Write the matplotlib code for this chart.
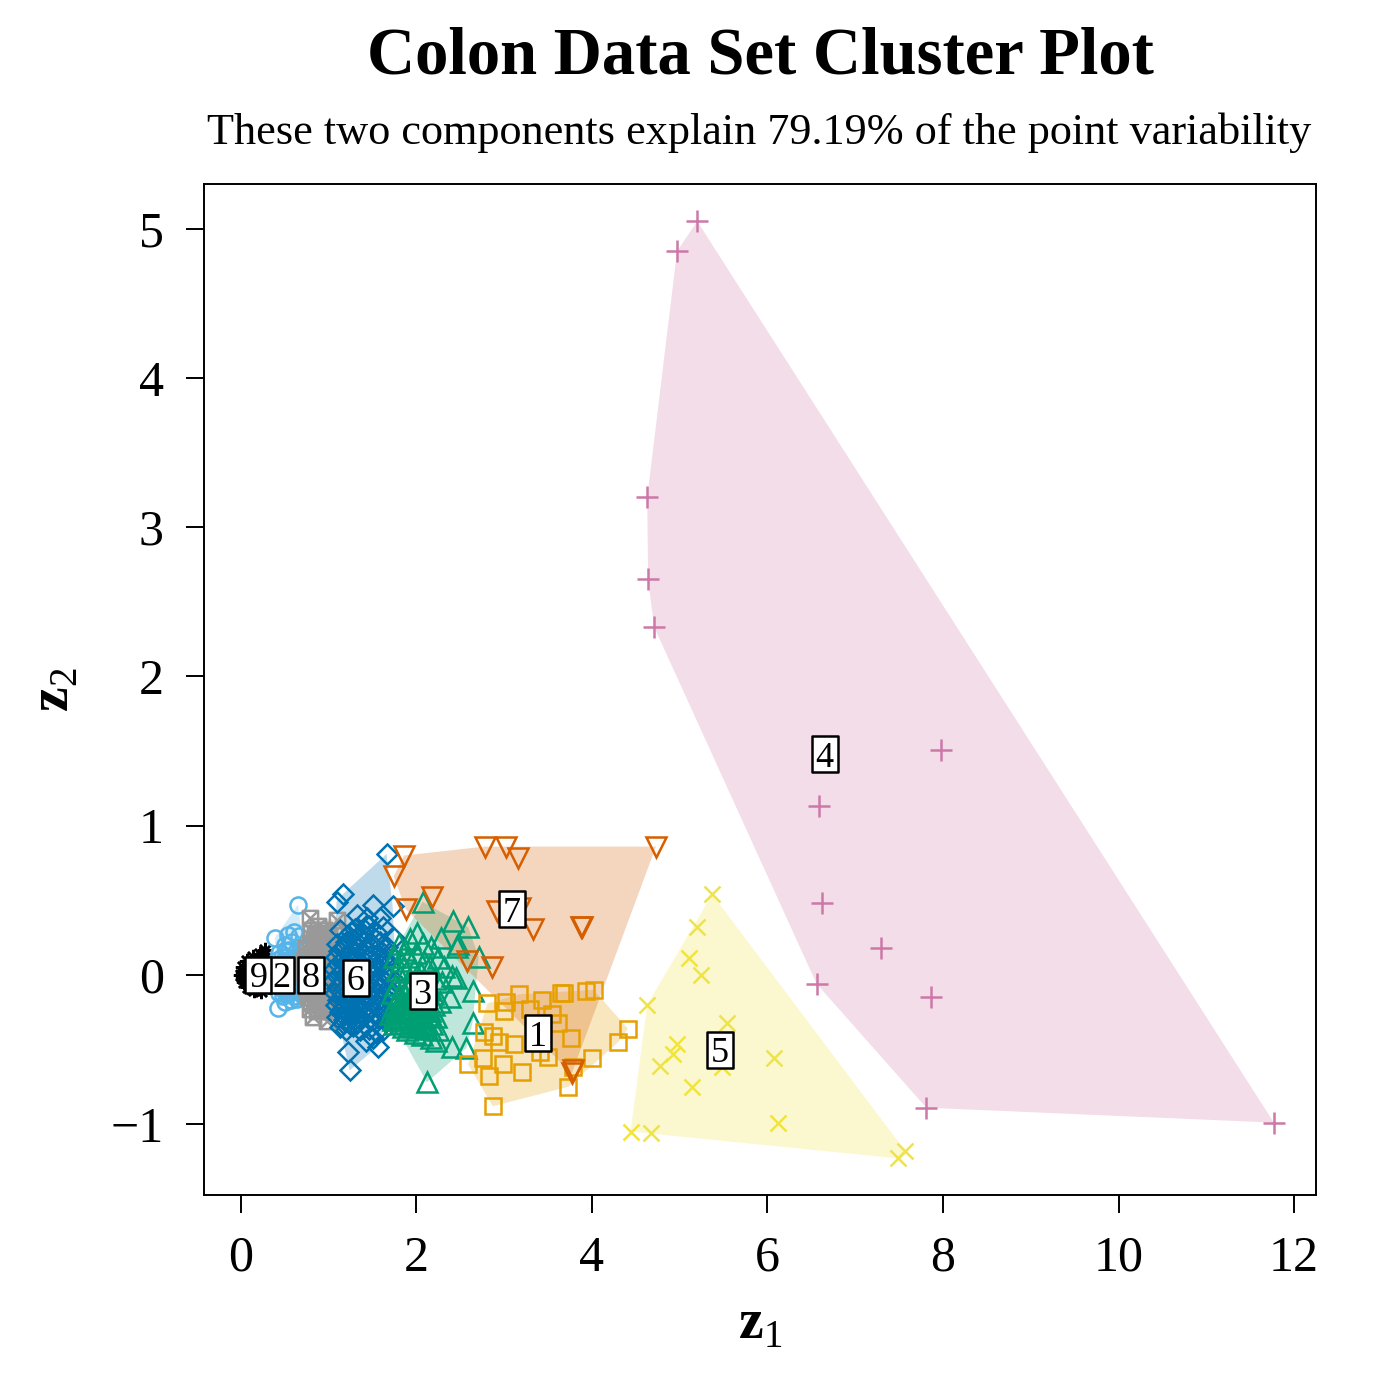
#Colon data set cluster plot
#1. Cluster values. 2. Hull helper. 3. Draw shaded hulls and points. 4. Labels and axes.
import numpy as np
import matplotlib
matplotlib.use('Agg')
import matplotlib.pyplot as plt
from matplotlib.path import Path

plt.rcParams['font.family'] = ['Liberation Serif', 'DejaVu Serif']
plt.rcParams['mathtext.fontset'] = 'custom'
plt.rcParams['mathtext.rm'] = 'Liberation Serif'
plt.rcParams['mathtext.bf'] = 'Liberation Serif:bold'

# Step 1: values
cluster_1 = [(2.81, -0.19), (3.02, -0.18), (3.00, -0.24), (3.17, -0.13), (3.43, -0.17), (3.30, -0.23),
             (3.54, -0.26), (3.61, -0.32), (3.65, -0.12), (3.68, -0.12), (3.93, -0.11), (4.02, -0.10),
             (2.77, -0.38), (2.87, -0.41), (2.94, -0.45), (3.11, -0.46), (3.76, -0.42), (4.41, -0.36),
             (4.30, -0.45), (2.76, -0.56), (2.99, -0.60), (2.59, -0.60), (2.83, -0.68), (3.20, -0.65),
             (3.50, -0.55), (3.41, -0.52), (4.00, -0.56), (3.78, -0.62), (3.73, -0.75), (2.87, -0.88)]
cluster_2 = [(0.39, 0.25), (0.54, 0.27), (0.60, 0.29), (0.65, 0.47), (0.50, 0.20), (0.58, 0.22), (0.66, 0.26),
             (0.44, 0.15), (0.52, 0.12), (0.62, 0.15), (0.70, 0.18), (0.42, 0.05), (0.50, 0.03), (0.58, 0.07),
             (0.67, 0.02), (0.40, -0.03), (0.47, -0.06), (0.56, -0.04), (0.65, -0.07), (0.43, -0.12),
             (0.52, -0.13), (0.60, -0.11), (0.70, -0.10), (0.42, -0.22), (0.50, -0.18), (0.57, -0.17),
             (0.64, -0.16), (0.72, -0.15), (0.74, 0.08), (0.76, -0.03), (0.48, 0.09), (0.55, 0.17),
             (0.46, 0.01), (0.49, -0.01), (0.53, 0.05), (0.54, -0.08), (0.45, 0.07), (0.47, 0.12), (0.51, 0.16),
             (0.56, 0.10), (0.60, 0.02), (0.61, -0.02), (0.63, 0.09), (0.66, 0.12), (0.59, -0.08), (0.68, -0.04),
             (0.72, 0.03), (0.73, -0.07), (0.46, -0.09), (0.48, -0.14), (0.55, -0.12), (0.61, -0.14), (0.67, -0.12),
             (0.41, 0.10), (0.43, -0.05), (0.69, 0.07)]
cluster_3 = [(2.12, -0.72), (2.57, -0.49), (2.40, -0.48), (2.64, -0.32), (2.65, -0.11), (2.38, -0.15),
             (2.45, -0.02), (2.40, -0.01), (2.07, 0.49), (2.42, 0.36), (2.59, 0.32), (2.28, 0.25),
             (2.47, 0.21), (2.46, 0.19), (2.71, 0.12), (1.80, 0.21), (1.87, 0.17), (1.93, 0.24), (2.01, 0.28),
             (2.08, 0.21), (2.17, 0.19), (1.74, 0.12), (1.83, 0.09), (1.91, 0.12), (2.00, 0.15), (2.09, 0.09),
             (2.16, 0.06), (2.25, 0.11), (2.31, 0.05), (1.78, 0.03), (1.88, 0.02), (1.97, 0.04), (2.05, 0.01),
             (2.21, -0.03), (2.29, -0.05), (1.76, -0.07), (1.84, -0.09), (1.92, -0.06), (2.01, -0.08), (2.14, -0.10),
             (1.72, -0.12), (1.79, -0.15), (1.86, -0.13), (1.94, -0.16), (2.03, -0.14), (2.11, -0.16), (2.19, -0.13),
             (2.27, -0.18), (1.74, -0.20), (1.81, -0.22), (1.88, -0.19), (1.96, -0.23), (2.04, -0.21), (2.12, -0.22),
             (2.20, -0.20), (1.70, -0.26), (1.77, -0.28), (1.84, -0.25), (1.91, -0.29), (1.99, -0.27), (2.06, -0.29),
             (2.14, -0.27), (2.22, -0.28), (1.75, -0.33), (1.83, -0.32), (1.92, -0.34), (2.00, -0.33), (2.09, -0.34),
             (2.18, -0.33), (2.25, -0.37), (1.98, -0.39), (2.06, -0.40), (2.17, -0.42), (2.22, -0.44), (1.89, -0.37),
             (1.76, -0.24), (1.80, -0.30), (1.86, -0.29), (1.89, -0.23), (1.93, -0.26), (1.97, -0.30), (2.02, -0.25),
             (2.07, -0.24), (2.10, -0.30), (2.16, -0.24), (1.73, -0.30), (1.79, -0.25), (1.85, -0.35), (1.95, -0.32),
             (2.03, -0.35), (2.12, -0.36), (1.82, -0.18), (1.90, -0.10), (1.98, -0.11), (2.06, -0.18)]
cluster_4 = [(5.20, 5.05), (4.97, 4.85), (4.63, 3.20), (4.64, 2.65), (4.71, 2.33), (7.98, 1.51), (6.59, 1.13),
             (6.62, 0.48), (7.29, 0.18), (6.56, -0.06), (7.86, -0.15), (7.81, -0.89), (11.77, -0.99)]
cluster_5 = [(5.37, 0.54), (5.20, 0.32), (5.11, 0.11), (5.24, 0.00), (4.63, -0.20), (5.54, -0.32), (4.97, -0.46),
             (4.92, -0.53), (4.77, -0.61), (6.07, -0.56), (5.14, -0.75), (5.48, -0.62), (6.12, -0.99), (4.44, -1.05),
             (4.67, -1.06), (7.57, -1.18), (7.49, -1.23)]
cluster_6 = [(1.66, 0.81), (1.16, 0.54), (1.09, 0.49), (1.50, 0.47), (1.73, 0.46), (1.32, 0.40), (1.22, -0.52),
             (1.24, -0.64), (1.56, -0.48), (1.43, -0.44), (1.13, 0.30), (1.22, 0.27), (1.30, 0.31), (1.38, 0.28),
             (1.46, 0.33), (1.54, 0.29), (1.62, 0.32), (1.10, 0.21), (1.18, 0.18), (1.26, 0.22), (1.34, 0.19),
             (1.42, 0.23), (1.50, 0.20), (1.58, 0.22), (1.66, 0.19), (1.74, 0.25), (1.08, 0.12), (1.15, 0.10),
             (1.23, 0.13), (1.31, 0.11), (1.39, 0.14), (1.47, 0.12), (1.55, 0.14), (1.63, 0.11), (1.71, 0.13),
             (1.06, 0.04), (1.14, 0.02), (1.22, 0.05), (1.30, 0.03), (1.38, 0.06), (1.46, 0.03), (1.54, 0.05),
             (1.62, 0.02), (1.70, 0.05), (1.05, -0.04), (1.13, -0.06), (1.21, -0.03), (1.29, -0.05), (1.37, -0.03),
             (1.45, -0.06), (1.53, -0.04), (1.61, -0.06), (1.69, -0.03), (1.77, -0.05), (1.07, -0.12), (1.15, -0.14),
             (1.23, -0.11), (1.31, -0.13), (1.39, -0.11), (1.47, -0.14), (1.55, -0.12), (1.63, -0.14), (1.71, -0.11),
             (1.08, -0.20), (1.16, -0.22), (1.24, -0.19), (1.32, -0.21), (1.40, -0.19), (1.48, -0.22), (1.56, -0.20),
             (1.64, -0.22), (1.72, -0.19), (1.10, -0.28), (1.18, -0.30), (1.26, -0.27), (1.34, -0.29), (1.42, -0.27),
             (1.50, -0.30), (1.58, -0.28), (1.66, -0.30), (1.13, -0.35), (1.20, -0.37), (1.28, -0.34), (1.36, -0.37),
             (1.46, -0.36), (1.54, -0.38), (1.62, -0.37), (1.50, -0.42), (1.19, -0.25), (1.44, 0.38), (1.58, 0.38),
             (1.12, 0.16), (1.20, 0.22), (1.28, 0.16), (1.36, 0.24), (1.44, 0.17), (1.52, 0.25), (1.60, 0.16),
             (1.11, 0.07), (1.19, 0.08), (1.27, 0.07), (1.35, 0.09), (1.43, 0.08), (1.51, 0.08), (1.59, 0.07),
             (1.10, -0.01), (1.18, 0.00), (1.26, -0.01), (1.34, 0.00), (1.42, -0.01), (1.50, 0.01), (1.58, -0.01),
             (1.10, -0.09), (1.18, -0.09), (1.26, -0.08), (1.34, -0.09), (1.42, -0.08), (1.50, -0.09), (1.58, -0.09),
             (1.11, -0.17), (1.19, -0.17), (1.27, -0.16), (1.35, -0.17), (1.43, -0.16), (1.51, -0.17), (1.59, -0.16),
             (1.13, -0.25), (1.21, -0.26), (1.29, -0.24), (1.37, -0.25), (1.45, -0.24), (1.53, -0.25), (1.61, -0.25),
             (1.16, -0.32), (1.24, -0.33), (1.32, -0.32), (1.40, -0.33), (1.25, 0.29), (1.33, 0.26), (1.41, 0.30)]
cluster_7 = [(1.86, 0.80), (1.74, 0.66), (2.78, 0.86), (3.02, 0.86), (3.16, 0.78), (4.73, 0.86), (2.18, 0.52),
             (1.88, 0.44), (2.92, 0.43), (3.18, 0.45), (3.33, 0.31), (3.89, 0.32), (3.87, 0.32), (2.86, 0.05),
             (2.58, 0.09), (3.77, -0.66), (3.78, -0.64)]
cluster_8 = [(0.79, 0.38), (1.10, 0.37), (0.80, 0.30), (0.88, 0.33), (0.95, 0.30), (0.83, 0.24), (0.92, 0.25),
             (1.00, 0.27), (0.74, 0.18), (0.82, 0.16), (0.90, 0.19), (0.98, 0.15), (1.04, 0.20), (0.72, 0.10),
             (0.80, 0.08), (0.88, 0.10), (0.96, 0.07), (1.03, 0.11), (0.71, 0.01), (0.78, -0.01), (0.86, 0.02),
             (0.94, -0.02), (1.02, 0.01), (0.73, -0.08), (0.81, -0.07), (0.89, -0.10), (0.97, -0.07), (1.04, -0.09),
             (0.76, -0.15), (0.84, -0.17), (0.92, -0.15), (1.00, -0.17), (0.79, -0.23), (0.87, -0.24), (0.95, -0.22),
             (1.02, -0.24), (0.82, -0.28), (0.98, -0.31), (1.08, -0.21), (1.06, 0.29), (0.75, 0.13), (0.77, 0.05),
             (0.84, 0.12), (0.85, 0.06), (0.92, 0.13), (0.91, 0.04), (1.00, 0.13), (0.99, 0.04), (0.76, -0.04),
             (0.83, -0.03), (0.91, -0.05), (0.99, -0.04), (0.75, -0.11), (0.85, -0.12), (0.93, -0.12), (1.01, -0.12),
             (0.80, -0.19), (0.88, -0.20), (0.96, -0.19), (1.03, -0.19), (0.86, 0.21), (0.94, 0.21), (0.79, 0.21),
             (0.90, 0.28), (0.85, 0.28)]
cluster_9 = [(0.00, 0.00), (0.03, 0.05), (0.04, -0.05), (0.07, 0.09), (0.08, -0.08), (0.11, 0.04), (0.12, -0.03),
             (0.14, 0.12), (0.15, -0.10), (0.18, 0.07), (0.19, -0.06), (0.22, 0.14), (0.23, -0.11), (0.26, 0.10),
             (0.27, 0.17), (0.10, 0.00), (0.16, 0.01), (0.21, 0.02), (0.06, 0.01), (0.02, 0.02),
             (0.02, -0.02), (0.05, 0.03), (0.05, -0.03), (0.08, 0.05), (0.09, -0.05), (0.10, 0.08), (0.11, -0.08),
             (0.13, 0.06), (0.14, -0.06), (0.17, 0.10), (0.18, -0.09), (0.20, 0.09), (0.13, 0.02), (0.15, -0.02)]

label_names = ['2', '9', '8', '6', '3', '1', '7', '4', '5']
label_x = [0.46, 0.20, 0.80, 1.31, 2.07, 3.38, 3.09, 6.65, 5.46]
label_y = [0.00, 0.00, 0.00, -0.02, -0.11, -0.39, 0.44, 1.48, -0.50]

xticks = [0, 2, 4, 6, 8, 10, 12]
yticks = [-1, 0, 1, 2, 3, 4, 5]
yticklabels = ['\u22121', '0', '1', '2', '3', '4', '5']

# R style symbols: crossed square and the tall label box
crossed_square = Path([(-1, -1), (1, -1), (1, 1), (-1, 1), (-1, -1), (-1, -1), (1, 1), (-1, 1), (1, -1)],
                      [Path.MOVETO, Path.LINETO, Path.LINETO, Path.LINETO, Path.CLOSEPOLY,
                       Path.MOVETO, Path.LINETO, Path.MOVETO, Path.LINETO])
label_box = Path([(-0.72, -1), (0.72, -1), (0.72, 1), (-0.72, 1), (-0.72, -1)], closed=True)


# Step 2: convex hull of one cluster
def hull(points):
    pts = sorted(set(points))
    def half(seq):
        out = []
        for p in seq:
            while len(out) > 1 and ((out[-1][0] - out[-2][0]) * (p[1] - out[-2][1])
                                    - (out[-1][1] - out[-2][1]) * (p[0] - out[-2][0])) <= 0:
                out.pop()
            out.append(p)
        return out[:-1]
    return np.array(half(pts) + half(pts[::-1]))


# Step 3: hulls and points, colour, marker, size
styles = [
    (cluster_9, '#000000', (8, 2, 0), 5.5),
    (cluster_2, '#56B4E9', 'o', 5.8),
    (cluster_8, '#999999', crossed_square, 5.5),
    (cluster_6, '#0072B2', 'D', 5.3),
    (cluster_3, '#009E73', '^', 7.5),
    (cluster_1, '#E69F00', 's', 5.5),
    (cluster_5, '#F0E442', 'x', 6),
    (cluster_4, '#CC79A7', '+', 8),
    (cluster_7, '#D55E00', 'v', 7.5),
]

fig = plt.figure(figsize=(7, 7), dpi=200)
ax = fig.add_axes([204 / 1400, 1 - 1195 / 1400, 1112 / 1400, 1011 / 1400])

for pts, color, marker, size in styles:
    h = hull(pts)
    ax.fill(h[:, 0], h[:, 1], color=color, alpha=0.25, lw=0, zorder=1)
for pts, color, marker, size in styles:
    arr = np.array(pts)
    ax.plot(arr[:, 0], arr[:, 1], ls='none', marker=marker, ms=size, mfc='none', mec=color, mew=0.9, zorder=2)

# Step 4: cluster labels and axes
for i, (name, x, y) in enumerate(zip(label_names, label_x, label_y)):
    ax.plot([x], [y], ls='none', marker=label_box, ms=13, mfc='white', mec='black', mew=0.9, zorder=3 + i)
    ax.text(x, y, name, fontsize=13, ha='center', va='center_baseline', zorder=3 + i)

ax.set_xlim(-0.42, 12.25)
ax.set_ylim(-1.475, 5.30)
ax.set_xticks(xticks)
ax.set_yticks(yticks)
ax.set_yticklabels(yticklabels)
ax.tick_params(length=6.5, width=0.7, labelsize=18, pad=8)
for s in ax.spines.values():
    s.set_linewidth(0.7)

ax.set_xlabel(r'$\mathbf{z}_{\mathrm{1}}$', fontsize=20, labelpad=6)
ax.set_ylabel(r'$\mathbf{z}_{\mathrm{2}}$', fontsize=20, labelpad=11)
fig.text(760 / 1400, 1 - 57 / 1400, 'Colon Data Set Cluster Plot', fontsize=24, fontweight='bold', ha='center', va='center')
fig.text(759 / 1400, 1 - 133 / 1400, 'These two components explain 79.19% of the point variability',
         fontsize=15.95, ha='center', va='center')

fig.savefig('out.png', dpi=200)
